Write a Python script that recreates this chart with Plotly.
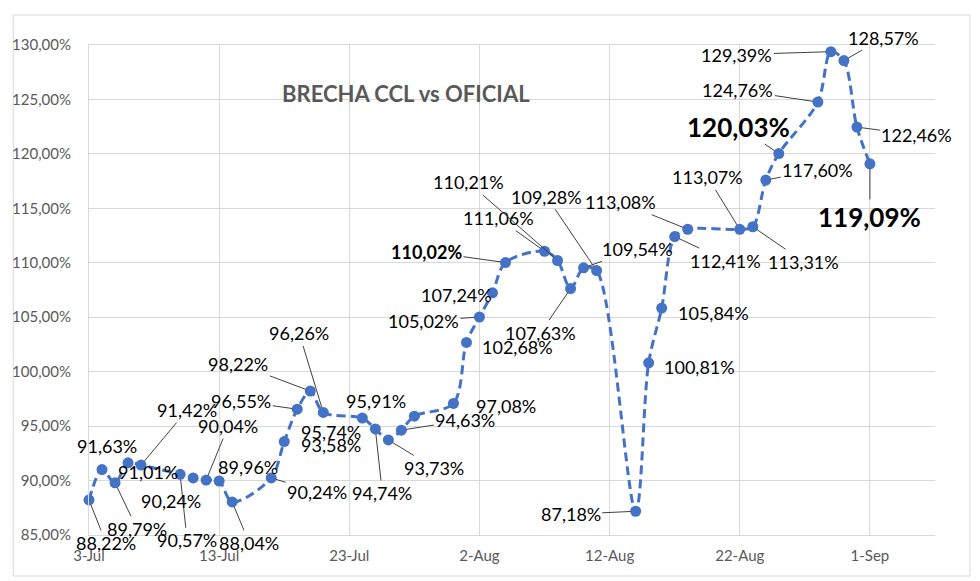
import plotly.graph_objects as go

# ---- data ----
dates = [
    "2023-07-03", "2023-07-04", "2023-07-05", "2023-07-06", "2023-07-07",
    "2023-07-10", "2023-07-11", "2023-07-12", "2023-07-13", "2023-07-14",
    "2023-07-17", "2023-07-18", "2023-07-19", "2023-07-20", "2023-07-21",
    "2023-07-24", "2023-07-25", "2023-07-26", "2023-07-27", "2023-07-28",
    "2023-07-31", "2023-08-01", "2023-08-02", "2023-08-03", "2023-08-04",
    "2023-08-07", "2023-08-08", "2023-08-09", "2023-08-10", "2023-08-11",
    "2023-08-14", "2023-08-15", "2023-08-16", "2023-08-17", "2023-08-18",
    "2023-08-22", "2023-08-23", "2023-08-24", "2023-08-25",
    "2023-08-28", "2023-08-29", "2023-08-30", "2023-08-31", "2023-09-01",
]
brecha = [
    88.22, 91.01, 89.79, 91.63, 91.42,
    90.57, 90.24, 90.04, 89.96, 88.04,
    90.24, 93.58, 96.55, 98.22, 96.26,
    95.74, 94.74, 93.73, 94.63, 95.91,
    97.08, 102.68, 105.02, 107.24, 110.02,
    111.06, 110.21, 107.63, 109.54, 109.28,
    87.18, 100.81, 105.84, 112.41, 113.08,
    113.07, 113.31, 117.60, 120.03,
    124.76, 129.39, 128.57, 122.46, 119.09,
]
title_text = "BRECHA CCL vs OFICIAL"

# ---- label styling (offsets in px from point, leader flag, emphasis) ----
label_dx = [17, 46, 22, -21, 46, 7, -22, 22, 29, 17, 46, 47, -56, -72, -24,
            -31, 7, 46, 64, -38, 53, 51, -56, -36, -79, -46, -89, -30, 54, -50,
            -65, 51, 52, 51, -67, -32, 51, 52, -40, -80, -94, 40, 60, 0]
label_dy = [43, 2, 46, -17, -55, 66, 23, -54, -14, 41, 14, 3, -8, -27, -79,
            14, 64, 28, -10, -15, 3, 5, 4, 2, -11, -33, -78, 44, -19, -74,
            3, 4, 5, 24, -27, -52, 35, -10, -27, -12, 3, -23, 8, 53]
leader = [1, 0, 1, 0, 1, 1, 0, 1, 0, 1, 1, 0, 1, 1, 1,
          0, 1, 1, 1, 0, 0, 0, 1, 0, 1, 1, 1, 1, 1, 1,
          1, 0, 0, 1, 1, 1, 1, 1, 1, 1, 1, 1, 1, 1]
emphasis = {24: ("bold", 18), 38: ("bold", 26), 43: ("bold", 26)}

BLUE = "#4472C4"
GRID = "#D9D9D9"
FONT = "Lato, Calibri, Arial, sans-serif"

fig = go.Figure()
fig.add_trace(go.Scatter(
    x=dates, y=brecha, mode="lines+markers",
    line=dict(color=BLUE, width=3, dash="9px,5px", shape="spline", smoothing=0.9),
    marker=dict(color=BLUE, size=11),
    cliponaxis=False,
    showlegend=False, hoverinfo="skip",
))

annotations = []
for i, (d, v) in enumerate(zip(dates, brecha)):
    txt = f"{v:.2f}".replace(".", ",") + "%"
    size = 18
    if i in emphasis:
        size = emphasis[i][1]
        txt = f"<b>{txt}</b>"
    annotations.append(dict(
        x=d, y=v, xref="x", yref="y", text=txt,
        showarrow=True, ax=label_dx[i], ay=label_dy[i],
        arrowhead=0, arrowwidth=1, standoff=5,
        arrowcolor="#404040" if leader[i] else "rgba(0,0,0,0)",
        font=dict(family=FONT, size=size, color="#000000"),
    ))

# Title inside plot area
L, R, T, B = 86, 45, 45, 46
W, H = 980, 581
pw, ph = W - L - R, H - T - B
annotations.append(dict(
    x=(404 - L) / pw, y=(H - B - 78) / ph, xref="paper", yref="paper",
    text=f"<b>{title_text}</b>", showarrow=False,
    font=dict(family=FONT, size=22, color="#595959"),
))

fig.update_layout(
    width=W, height=H,
    margin=dict(l=L, r=R, t=T, b=B),
    paper_bgcolor="white", plot_bgcolor="white",
    separators=",.",
    annotations=annotations,
    shapes=[dict(
        type="rect", xref="paper", yref="paper",
        x0=(10 - L) / pw, x1=(970 - L) / pw,
        y0=(H - B - 576) / ph, y1=(H - B - 15) / ph,
        line=dict(color=GRID, width=1), fillcolor="rgba(0,0,0,0)", layer="below",
    )],
    xaxis=dict(
        type="date", range=["2023-07-03", "2023-09-06"],
        tick0="2023-07-03", dtick=10 * 86400000, tickformat="%-d-%b",
        showgrid=True, gridcolor=GRID, gridwidth=1,
        showline=True, linecolor=GRID, linewidth=1, mirror=True,
        ticks="", ticklabelstandoff=7,
        tickfont=dict(family=FONT, size=15, color="#595959"),
        zeroline=False,
    ),
    yaxis=dict(
        range=[85, 130], dtick=5, tickformat=".2f", ticksuffix="%",
        showgrid=True, gridcolor=GRID, gridwidth=1,
        showline=True, linecolor=GRID, linewidth=1,
        ticks="", ticklabelstandoff=14,
        tickfont=dict(family=FONT, size=15, color="#595959"),
        zeroline=False,
    ),
)

fig.write_html("out.html")
